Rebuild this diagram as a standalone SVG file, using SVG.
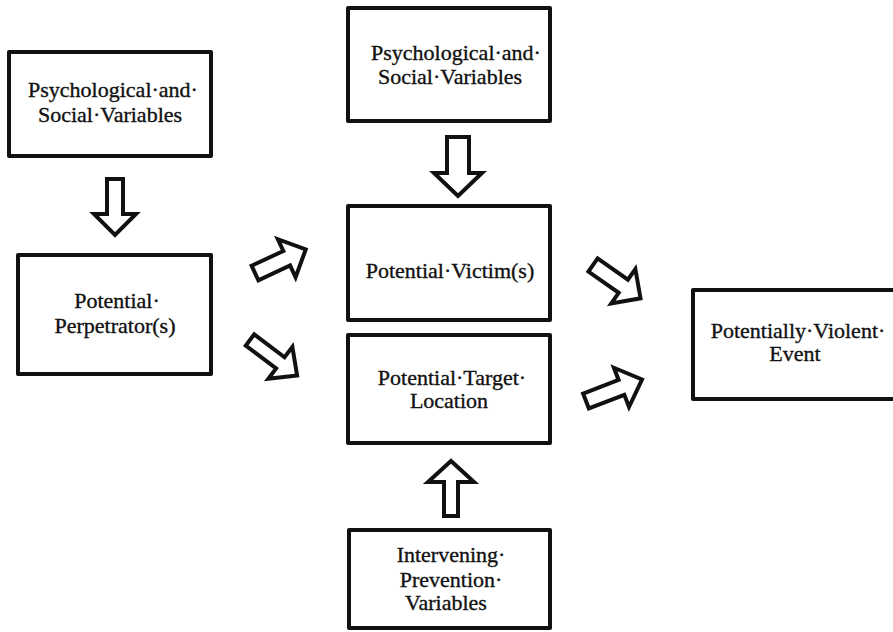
<svg xmlns="http://www.w3.org/2000/svg" width="893" height="632" viewBox="0 0 893 632">
<style>
.box{fill:#fff;stroke:#111;stroke-width:4;stroke-linejoin:round}
.arr{fill:#fff;stroke:#111;stroke-width:4;stroke-linejoin:miter;stroke-miterlimit:10}
text{font-family:"Liberation Serif","Times New Roman",serif;font-size:22px;fill:#111;stroke:#111;stroke-width:0.35;text-anchor:middle}
</style>
<rect width="893" height="632" fill="#fff"/>
<g id="psych-left">
<rect class="box" x="9" y="52" width="202" height="104"/>
<text x="113" y="97">Psychological·and·</text>
<text x="110" y="122">Social·Variables</text>
</g>
<g id="psych-top">
<rect class="box" x="348" y="8" width="202" height="113"/>
<text x="456" y="60">Psychological·and·</text>
<text x="450" y="84">Social·Variables</text>
</g>
<g id="perpetrator">
<rect class="box" x="18" y="255" width="193" height="119"/>
<text x="117" y="308">Potential·</text>
<text x="115" y="333">Perpetrator(s)</text>
</g>
<g id="victim">
<rect class="box" x="348" y="206" width="202" height="114"/>
<text x="450" y="278">Potential·Victim(s)</text>
</g>
<g id="target">
<rect class="box" x="348" y="335" width="202" height="108"/>
<text x="452" y="385">Potential·Target·</text>
<text x="449" y="408">Location</text>
</g>
<g id="event">
<rect class="box" x="693" y="290" width="215" height="109"/>
<text x="798" y="338">Potentially·Violent·</text>
<text x="795" y="361">Event</text>
</g>
<g id="intervening">
<rect class="box" x="349" y="530" width="201" height="98"/>
<text x="451" y="562">Intervening·</text>
<text x="451" y="587">Prevention·</text>
<text x="446" y="610">Variables</text>
</g>
<g id="connectors">
<polygon class="arr" transform="translate(115,179) rotate(90)" points="0,-8 35,-8 35,-21 56,0 35,21 35,8 0,8"/>
<polygon class="arr" transform="translate(458,137) rotate(90)" points="0,-11 36,-11 36,-24 59,0 36,24 36,11 0,11"/>
<polygon class="arr" transform="translate(451,516) rotate(-90)" points="0,-7 34,-7 34,-23 55,0 34,23 34,7 0,7"/>
<polygon class="arr" transform="translate(255,273) rotate(-25)" points="0,-8 35,-8 35,-21 56,0 35,21 35,8 0,8"/>
<polygon class="arr" transform="translate(250,340) rotate(37)" points="0,-7 38,-7 38,-20 59,0 38,20 38,7 0,7"/>
<polygon class="arr" transform="translate(593,265) rotate(35)" points="0,-8 37,-8 37,-21 58,0 37,21 37,8 0,8"/>
<polygon class="arr" transform="translate(586,401) rotate(-21)" points="0,-8 38,-8 38,-21 60,0 38,21 38,8 0,8"/>
</g>
</svg>
